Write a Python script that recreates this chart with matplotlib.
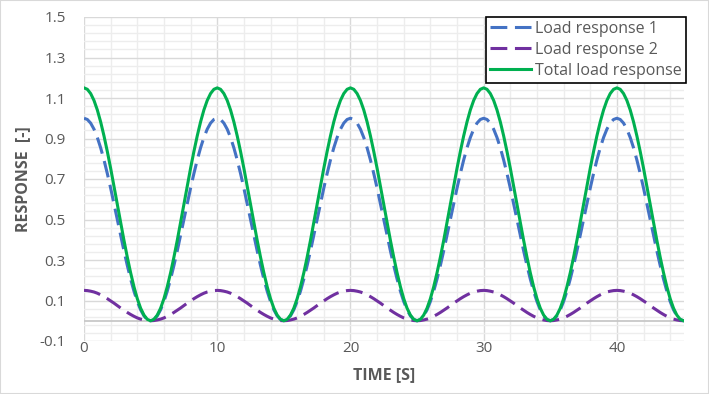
#!/usr/bin/env python3
"""Load responses vs time (Excel-style line chart)."""

import matplotlib
matplotlib.use("Agg")
import matplotlib.pyplot as plt
from matplotlib.patches import Rectangle
import numpy as np

# sampled every 0.25 s from 0 to 45 s
TIME = np.linspace(0, 45, 181)

LOAD_1 = [
    1.000, 0.994, 0.976, 0.946, 0.905, 0.854, 0.794, 0.727, 0.655, 0.578,
    0.500, 0.422, 0.345, 0.273, 0.206, 0.146, 0.095, 0.054, 0.024, 0.006,
    0.000, 0.006, 0.024, 0.054, 0.095, 0.146, 0.206, 0.273, 0.345, 0.422,
    0.500, 0.578, 0.655, 0.727, 0.794, 0.854, 0.905, 0.946, 0.976, 0.994,
    1.000, 0.994, 0.976, 0.946, 0.905, 0.854, 0.794, 0.727, 0.655, 0.578,
    0.500, 0.422, 0.345, 0.273, 0.206, 0.146, 0.095, 0.054, 0.024, 0.006,
    0.000, 0.006, 0.024, 0.054, 0.095, 0.146, 0.206, 0.273, 0.345, 0.422,
    0.500, 0.578, 0.655, 0.727, 0.794, 0.854, 0.905, 0.946, 0.976, 0.994,
    1.000, 0.994, 0.976, 0.946, 0.905, 0.854, 0.794, 0.727, 0.655, 0.578,
    0.500, 0.422, 0.345, 0.273, 0.206, 0.146, 0.095, 0.054, 0.024, 0.006,
    0.000, 0.006, 0.024, 0.054, 0.095, 0.146, 0.206, 0.273, 0.345, 0.422,
    0.500, 0.578, 0.655, 0.727, 0.794, 0.854, 0.905, 0.946, 0.976, 0.994,
    1.000, 0.994, 0.976, 0.946, 0.905, 0.854, 0.794, 0.727, 0.655, 0.578,
    0.500, 0.422, 0.345, 0.273, 0.206, 0.146, 0.095, 0.054, 0.024, 0.006,
    0.000, 0.006, 0.024, 0.054, 0.095, 0.146, 0.206, 0.273, 0.345, 0.422,
    0.500, 0.578, 0.655, 0.727, 0.794, 0.854, 0.905, 0.946, 0.976, 0.994,
    1.000, 0.994, 0.976, 0.946, 0.905, 0.854, 0.794, 0.727, 0.655, 0.578,
    0.500, 0.422, 0.345, 0.273, 0.206, 0.146, 0.095, 0.054, 0.024, 0.006,
    0.000,
]

LOAD_2 = [
    0.150, 0.149, 0.146, 0.142, 0.136, 0.128, 0.119, 0.109, 0.098, 0.087,
    0.075, 0.063, 0.052, 0.041, 0.031, 0.022, 0.014, 0.008, 0.004, 0.001,
    0.000, 0.001, 0.004, 0.008, 0.014, 0.022, 0.031, 0.041, 0.052, 0.063,
    0.075, 0.087, 0.098, 0.109, 0.119, 0.128, 0.136, 0.142, 0.146, 0.149,
    0.150, 0.149, 0.146, 0.142, 0.136, 0.128, 0.119, 0.109, 0.098, 0.087,
    0.075, 0.063, 0.052, 0.041, 0.031, 0.022, 0.014, 0.008, 0.004, 0.001,
    0.000, 0.001, 0.004, 0.008, 0.014, 0.022, 0.031, 0.041, 0.052, 0.063,
    0.075, 0.087, 0.098, 0.109, 0.119, 0.128, 0.136, 0.142, 0.146, 0.149,
    0.150, 0.149, 0.146, 0.142, 0.136, 0.128, 0.119, 0.109, 0.098, 0.087,
    0.075, 0.063, 0.052, 0.041, 0.031, 0.022, 0.014, 0.008, 0.004, 0.001,
    0.000, 0.001, 0.004, 0.008, 0.014, 0.022, 0.031, 0.041, 0.052, 0.063,
    0.075, 0.087, 0.098, 0.109, 0.119, 0.128, 0.136, 0.142, 0.146, 0.149,
    0.150, 0.149, 0.146, 0.142, 0.136, 0.128, 0.119, 0.109, 0.098, 0.087,
    0.075, 0.063, 0.052, 0.041, 0.031, 0.022, 0.014, 0.008, 0.004, 0.001,
    0.000, 0.001, 0.004, 0.008, 0.014, 0.022, 0.031, 0.041, 0.052, 0.063,
    0.075, 0.087, 0.098, 0.109, 0.119, 0.128, 0.136, 0.142, 0.146, 0.149,
    0.150, 0.149, 0.146, 0.142, 0.136, 0.128, 0.119, 0.109, 0.098, 0.087,
    0.075, 0.063, 0.052, 0.041, 0.031, 0.022, 0.014, 0.008, 0.004, 0.001,
    0.000,
]

TOTAL = [
    1.150, 1.143, 1.122, 1.088, 1.041, 0.982, 0.913, 0.836, 0.753, 0.665,
    0.575, 0.485, 0.397, 0.314, 0.237, 0.168, 0.109, 0.062, 0.028, 0.007,
    0.000, 0.007, 0.028, 0.062, 0.109, 0.168, 0.237, 0.314, 0.397, 0.485,
    0.575, 0.665, 0.753, 0.836, 0.913, 0.982, 1.041, 1.088, 1.122, 1.143,
    1.150, 1.143, 1.122, 1.088, 1.041, 0.982, 0.913, 0.836, 0.753, 0.665,
    0.575, 0.485, 0.397, 0.314, 0.237, 0.168, 0.109, 0.062, 0.028, 0.007,
    0.000, 0.007, 0.028, 0.062, 0.109, 0.168, 0.237, 0.314, 0.397, 0.485,
    0.575, 0.665, 0.753, 0.836, 0.913, 0.982, 1.041, 1.088, 1.122, 1.143,
    1.150, 1.143, 1.122, 1.088, 1.041, 0.982, 0.913, 0.836, 0.753, 0.665,
    0.575, 0.485, 0.397, 0.314, 0.237, 0.168, 0.109, 0.062, 0.028, 0.007,
    0.000, 0.007, 0.028, 0.062, 0.109, 0.168, 0.237, 0.314, 0.397, 0.485,
    0.575, 0.665, 0.753, 0.836, 0.913, 0.982, 1.041, 1.088, 1.122, 1.143,
    1.150, 1.143, 1.122, 1.088, 1.041, 0.982, 0.913, 0.836, 0.753, 0.665,
    0.575, 0.485, 0.397, 0.314, 0.237, 0.168, 0.109, 0.062, 0.028, 0.007,
    0.000, 0.007, 0.028, 0.062, 0.109, 0.168, 0.237, 0.314, 0.397, 0.485,
    0.575, 0.665, 0.753, 0.836, 0.913, 0.982, 1.041, 1.088, 1.122, 1.143,
    1.150, 1.143, 1.122, 1.088, 1.041, 0.982, 0.913, 0.836, 0.753, 0.665,
    0.575, 0.485, 0.397, 0.314, 0.237, 0.168, 0.109, 0.062, 0.028, 0.007,
    0.000,
]

LABELS = ["Load response 1", "Load response 2", "Total load response"]
COLORS = ["#4472C4", "#7030A0", "#00B050"]

X_TICKS = [0, 10, 20, 30, 40]
Y_TICKS = [-0.1, 0.1, 0.3, 0.5, 0.7, 0.9, 1.1, 1.3, 1.5]

TEXT_GRAY = "#595959"

plt.rcParams["font.family"] = ["Open Sans", "DejaVu Sans"]

W, H = 709, 394
fig = plt.figure(figsize=(W / 100, H / 100), dpi=100)
fig.patches.append(Rectangle((0, 0), 1, 1, transform=fig.transFigure,
                             fill=False, edgecolor="#D9D9D9", linewidth=1.5))

left, right, top, bottom = 84, 683.5, 17, 341
ax = fig.add_axes([left / W, 1 - bottom / H, (right - left) / W, (bottom - top) / H])

ax.set_xlim(0, 45)
ax.set_ylim(-0.1, 1.5)

# gridlines (Excel style: major + minor)
for x in np.arange(0, 45.01, 2):
    major = abs(x % 10) < 1e-9
    ax.axvline(x, color="#D9D9D9" if major else "#EDEDED", lw=1.0, zorder=0)
for y in np.arange(-0.1, 1.501, 0.04):
    major = abs(((y + 0.1) / 0.2) - round((y + 0.1) / 0.2)) < 1e-6
    ax.axhline(y, color="#D9D9D9" if major else "#EDEDED", lw=1.0, zorder=0)
ax.axhline(0, color="#C8C8C8", lw=1.3, zorder=0.5)

for s in ax.spines.values():
    s.set_visible(False)

dash = (5.5, 2.5)
ax.plot(TIME, LOAD_1, color=COLORS[0], lw=2.2, dashes=dash, label=LABELS[0], zorder=2)
ax.plot(TIME, LOAD_2, color=COLORS[1], lw=2.2, dashes=dash, label=LABELS[1], zorder=2)
ax.plot(TIME, TOTAL, color=COLORS[2], lw=2.2, label=LABELS[2], zorder=3)

ax.set_xticks(X_TICKS)
ax.set_xticklabels([str(t) for t in X_TICKS])
ax.set_yticks(Y_TICKS)
ax.set_yticklabels([f"{t:.1f}" for t in Y_TICKS])
ax.tick_params(length=0, labelsize=11, labelcolor=TEXT_GRAY)
ax.tick_params(axis="y", pad=13)
ax.tick_params(axis="x", pad=0)

ax.set_xlabel("TIME [S]", fontsize=11.5, fontweight="bold", color=TEXT_GRAY, labelpad=8)
ax.set_ylabel("RESPONSE  [-]", fontsize=11.5, fontweight="bold", color=TEXT_GRAY, labelpad=6)

leg = ax.legend(loc="upper right", bbox_to_anchor=(686 / W, 1 - 17 / H),
                bbox_transform=fig.transFigure, borderaxespad=0,
                fontsize=11.5, frameon=True, fancybox=False, edgecolor="black",
                framealpha=1, labelspacing=0.3, borderpad=0.25,
                handlelength=2.6, handletextpad=0.25)
leg.get_frame().set_linewidth(1.2)
for t in leg.get_texts():
    t.set_color(TEXT_GRAY)

fig.savefig("out.png", dpi=100)
